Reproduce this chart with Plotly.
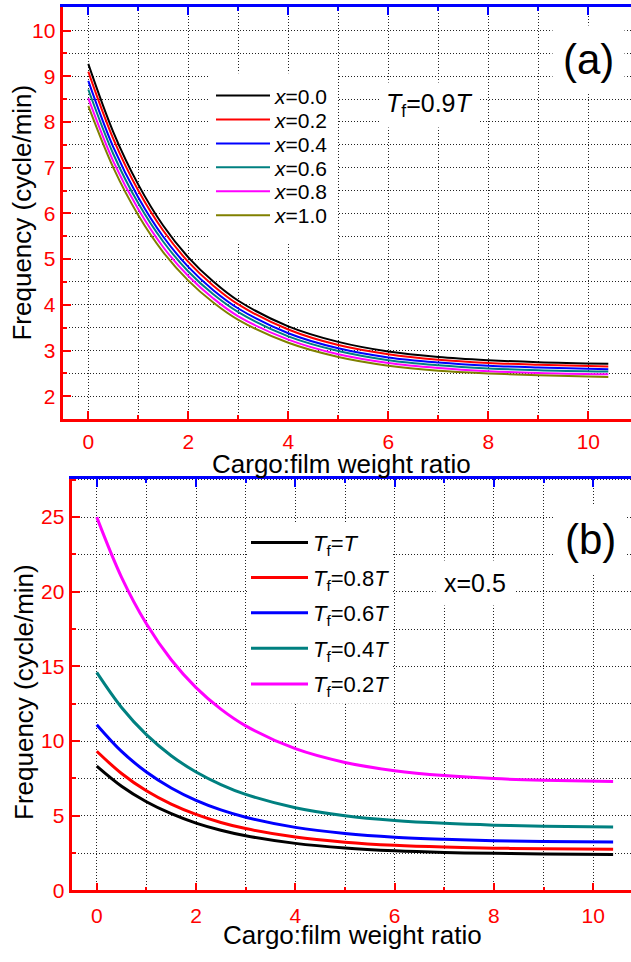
import plotly.graph_objects as go

# ---------------- data ----------------
ratio = [0, 0.5, 1, 1.5, 2, 2.5, 3, 4, 5, 6, 7, 8, 9, 10.4]

# panel (a): Tf = 0.9T, different x
labels_a = ["<i>x</i>=0.0", "<i>x</i>=0.2", "<i>x</i>=0.4",
            "<i>x</i>=0.6", "<i>x</i>=0.8", "<i>x</i>=1.0"]
freq_x00 = [9.27, 7.78, 6.63, 5.73, 5.04, 4.51, 4.09, 3.53, 3.19, 2.98, 2.86, 2.79, 2.745, 2.71]
freq_x02 = [9.10, 7.63, 6.50, 5.62, 4.94, 4.42, 4.01, 3.46, 3.12, 2.92, 2.80, 2.73, 2.69, 2.65]
freq_x04 = [8.90, 7.45, 6.35, 5.49, 4.83, 4.32, 3.92, 3.38, 3.05, 2.85, 2.74, 2.67, 2.63, 2.59]
freq_x06 = [8.71, 7.30, 6.22, 5.38, 4.73, 4.23, 3.84, 3.31, 2.99, 2.79, 2.68, 2.61, 2.57, 2.54]
freq_x08 = [8.52, 7.14, 6.09, 5.26, 4.63, 4.14, 3.75, 3.24, 2.92, 2.73, 2.62, 2.55, 2.51, 2.48]
freq_x10 = [8.35, 7.00, 5.96, 5.15, 4.53, 4.05, 3.67, 3.17, 2.86, 2.67, 2.56, 2.50, 2.46, 2.42]
series_a = [freq_x00, freq_x02, freq_x04, freq_x06, freq_x08, freq_x10]
colors_a = ["#000000", "#ff0000", "#0000ff", "#008080", "#ff00ff", "#808000"]

# panel (b): x = 0.5, different Tf
labels_b = ["<i>T</i><sub>f</sub>=<i>T</i>", "<i>T</i><sub>f</sub>=0.8<i>T</i>",
            "<i>T</i><sub>f</sub>=0.6<i>T</i>", "<i>T</i><sub>f</sub>=0.4<i>T</i>",
            "<i>T</i><sub>f</sub>=0.2<i>T</i>"]
freq_tf10 = [8.33, 6.98, 5.94, 5.14, 4.51, 4.03, 3.66, 3.15, 2.84, 2.65, 2.54, 2.48, 2.44, 2.41]
freq_tf08 = [9.32, 7.83, 6.67, 5.78, 5.09, 4.55, 4.14, 3.57, 3.23, 3.02, 2.90, 2.83, 2.79, 2.75]
freq_tf06 = [11.1, 9.31, 7.93, 6.86, 6.03, 5.39, 4.90, 4.22, 3.81, 3.56, 3.42, 3.33, 3.28, 3.24]
freq_tf04 = [14.6, 12.25, 10.43, 9.02, 7.93, 7.09, 6.43, 5.54, 5.00, 4.68, 4.49, 4.37, 4.30, 4.25]
freq_tf02 = [25.0, 20.97, 17.86, 15.45, 13.58, 12.14, 11.02, 9.49, 8.57, 8.02, 7.69, 7.49, 7.38, 7.29]
series_b = [freq_tf10, freq_tf08, freq_tf06, freq_tf04, freq_tf02]
colors_b = ["#000000", "#ff0000", "#0000ff", "#008080", "#ff00ff"]

# ---------------- figure ----------------
W, H = 631, 962
FONT = "Liberation Sans, Arial, sans-serif"
fig = go.Figure()


def px_x(p):
    return p / W


def px_y(p):
    return 1 - p / H


# legend item centres (pixels) for the one-item legends
leg_a_y = [97, 121.2, 145.4, 169.6, 193.8, 218]
leg_b_y = [549, 584.5, 620, 656, 692]

legends = {}
k = 1
for lab, ys, col, ly in zip(labels_a, series_a, colors_a, leg_a_y):
    name = "legend" if k == 1 else f"legend{k}"
    fig.add_trace(go.Scatter(x=ratio, y=ys, mode="lines", name=lab,
                             line=dict(color=col, width=2, shape="spline"),
                             xaxis="x", yaxis="y", legend=name))
    legends[name] = dict(x=px_x(211), y=px_y(ly), xanchor="left", yanchor="middle",
                         bgcolor="rgba(0,0,0,0)", borderwidth=0, itemwidth=54,
                         font=dict(size=21, family=FONT, color="black"))
    k += 1
for lab, ys, col, ly in zip(labels_b, series_b, colors_b, leg_b_y):
    name = f"legend{k}"
    fig.add_trace(go.Scatter(x=ratio, y=ys, mode="lines", name=lab,
                             line=dict(color=col, width=3, shape="spline"),
                             xaxis="x2", yaxis="y2", legend=name))
    legends[name] = dict(x=px_x(246), y=px_y(ly), xanchor="left", yanchor="middle",
                         bgcolor="rgba(0,0,0,0)", borderwidth=0, itemwidth=57,
                         font=dict(size=22, family=FONT, color="black"))
    k += 1

# empty traces so that the blue top axes get drawn
fig.add_trace(go.Scatter(x=[], y=[], xaxis="x3", yaxis="y", showlegend=False, hoverinfo="skip"))
fig.add_trace(go.Scatter(x=[], y=[], xaxis="x4", yaxis="y2", showlegend=False, hoverinfo="skip"))

GRIDC = "#222222"


def main_axis(dom, rng, dtick, mdtick, **kw):
    d = dict(domain=dom, range=rng, dtick=dtick, tick0=0, showline=True,
             linecolor="#ff0000", linewidth=2.5, ticks="inside", ticklen=8,
             tickwidth=2, tickcolor="#ff0000",
             tickfont=dict(color="#ff0000", size=21, family=FONT),
             zeroline=False, showgrid=True, gridcolor=GRIDC, gridwidth=1,
             griddash="1px,2px",
             minor=dict(dtick=mdtick, tick0=0, ticks="inside", ticklen=4, tickwidth=2,
                        tickcolor="#ff0000", showgrid=True, gridcolor=GRIDC,
                        gridwidth=1, griddash="1px,2px"))
    d.update(kw)
    return d


def top_axis(over, anchor, rng):
    return dict(overlaying=over, anchor=anchor, side="top", range=rng, dtick=2, tick0=0,
                showline=True, linecolor="#0000ff", linewidth=3, ticks="inside",
                ticklen=8, tickwidth=2, tickcolor="#0000ff", showticklabels=False,
                showgrid=False, zeroline=False,
                minor=dict(dtick=1, tick0=0, ticks="inside", ticklen=4, tickwidth=2,
                           tickcolor="#0000ff", showgrid=False))


xr1 = [-0.5, 10.854]
xr2 = [-0.49, 10.76]
fig.update_layout(
    width=W, height=H, margin=dict(l=0, r=0, t=0, b=0),
    paper_bgcolor="white", plot_bgcolor="white",
    font=dict(family=FONT, color="black"),
    xaxis=main_axis([px_x(63.3), 1], xr1, 2, 1, anchor="y", ticklabelstandoff=2),
    yaxis=main_axis([px_y(424), px_y(7.3)], [1.5, 10.51], 1, 0.5, anchor="x",
                    ticklabelstandoff=1),
    xaxis2=main_axis([px_x(72.4), 1], xr2, 2, 1, anchor="y2", ticklabelstandoff=5),
    yaxis2=main_axis([px_y(900.7), px_y(484.3)], [0, 27.57], 5, 2.5, anchor="x2",
                     ticklabelstandoff=1),
    xaxis3=top_axis("x", "y", xr1),
    xaxis4=top_axis("x2", "y2", xr2),
    showlegend=True,
    **legends,
)

# white boxes behind the two legends (they hide the grid, as in the original)
fig.update_layout(shapes=[
    dict(type="rect", xref="paper", yref="paper", layer="above",
         x0=px_x(208), x1=px_x(338), y0=px_y(246), y1=px_y(74),
         fillcolor="white", line=dict(width=0)),
    dict(type="rect", xref="paper", yref="paper", layer="above",
         x0=px_x(247), x1=px_x(393), y0=px_y(712), y1=px_y(528),
         fillcolor="white", line=dict(width=0)),
])

ann = [
    dict(text="Frequency (cycle/min)", x=px_x(22), y=px_y(215), textangle=-90,
         font=dict(size=26, family=FONT, color="black")),
    dict(text="Frequency (cycle/min)", x=px_x(24), y=px_y(700), textangle=-90,
         font=dict(size=26, family=FONT, color="black")),
    dict(text="Cargo:film weight ratio", x=px_x(341), y=px_y(469),
         font=dict(size=26, family=FONT, color="black")),
    dict(text="Cargo:film weight ratio", x=px_x(352), y=px_y(946),
         font=dict(size=26, family=FONT, color="black")),
    dict(text="(a)", x=px_x(588), y=px_y(60), bgcolor="white", borderpad=10,
         font=dict(size=42, family=FONT, color="black")),
    dict(text="(b)", x=px_x(590), y=px_y(546), bgcolor="white", borderpad=10,
         font=dict(size=42, family=FONT, color="black")),
    dict(text="<i>T</i><sub>f</sub>=0.9<i>T</i>", x=px_x(430), y=px_y(106),
         bgcolor="white", borderpad=6,
         font=dict(size=25, family=FONT, color="black")),
    dict(text="x=0.5", x=px_x(475), y=px_y(590), bgcolor="white", borderpad=8,
         font=dict(size=25, family=FONT, color="black")),
]
for a in ann:
    a.update(xref="paper", yref="paper", showarrow=False, xanchor="center", yanchor="middle")
fig.update_layout(annotations=ann)

fig.write_html("out.html", config={"displayModeBar": False},
               post_script="document.body.style.margin='0px';")
